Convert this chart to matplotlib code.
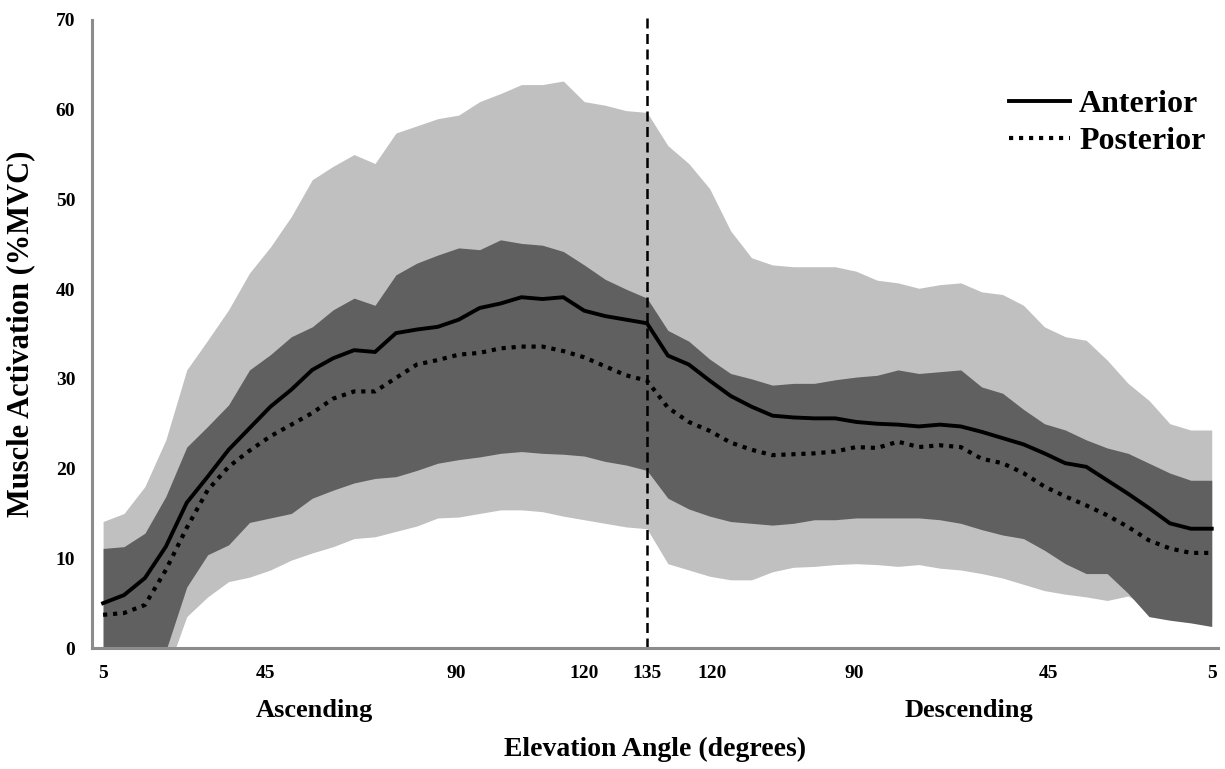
import numpy as np
import matplotlib
matplotlib.use("Agg")
import matplotlib.pyplot as plt
from matplotlib.lines import Line2D

# mean muscle activation (%MVC), 54 samples: ascending 5->135 deg, then descending 135->5 deg
anterior = [5.0, 5.9, 7.8, 11.3, 16.2, 19.1, 22.1, 24.5, 26.9, 28.8,
            31.0, 32.3, 33.2, 33.0, 35.1, 35.5, 35.8, 36.6, 37.9, 38.4,
            39.1, 38.9, 39.1, 37.6, 37.0, 36.6, 36.2, 32.6, 31.6, 29.8,
            28.1, 26.9, 25.9, 25.7, 25.6, 25.6, 25.2, 25.0, 24.9, 24.7,
            24.9, 24.7, 24.1, 23.4, 22.7, 21.7, 20.6, 20.2, 18.7, 17.2,
            15.6, 13.9, 13.3, 13.3]
posterior = [3.7, 3.9, 4.8, 8.7, 13.4, 17.6, 20.2, 22.0, 23.6, 24.9,
             26.2, 27.8, 28.6, 28.6, 30.1, 31.6, 32.1, 32.7, 32.9, 33.4,
             33.6, 33.6, 33.1, 32.4, 31.4, 30.4, 29.8, 26.8, 25.2, 24.2,
             22.9, 22.1, 21.5, 21.6, 21.7, 21.9, 22.4, 22.3, 23.0, 22.4,
             22.6, 22.4, 21.1, 20.6, 19.5, 18.0, 16.9, 15.9, 14.8, 13.5,
             12.0, 11.1, 10.6, 10.6]

# +/- SD envelopes
anterior_hi = [14.1, 15.0, 18.0, 23.2, 31.0, 34.3, 37.7, 41.8, 44.7, 48.1,
               52.2, 53.7, 55.0, 54.0, 57.4, 58.2, 59.0, 59.4, 60.9, 61.8,
               62.8, 62.8, 63.2, 60.9, 60.5, 59.9, 59.7, 56.0, 54.0, 51.2,
               46.5, 43.5, 42.7, 42.5, 42.5, 42.5, 42.0, 41.0, 40.7, 40.1,
               40.5, 40.7, 39.7, 39.4, 38.2, 35.8, 34.7, 34.3, 32.1, 29.5,
               27.6, 25.0, 24.3, 24.3]
anterior_lo = [-4.0, -3.8, -3.5, -3.0, 3.5, 5.7, 7.4, 7.9, 8.7, 9.8,
               10.6, 11.3, 12.2, 12.4, 13.0, 13.6, 14.5, 14.6, 15.0, 15.4,
               15.4, 15.2, 14.7, 14.3, 13.9, 13.5, 13.3, 9.4, 8.7, 8.0,
               7.6, 7.6, 8.5, 9.0, 9.1, 9.3, 9.4, 9.3, 9.1, 9.3,
               8.9, 8.7, 8.3, 7.8, 7.1, 6.4, 6.0, 5.7, 5.3, 5.8,
               4.5, 3.8, 3.5, 3.2]
posterior_hi = [11.1, 11.3, 12.8, 16.9, 22.4, 24.7, 27.1, 31.0, 32.7, 34.7,
                35.8, 37.7, 39.0, 38.2, 41.6, 42.9, 43.8, 44.6, 44.4, 45.5,
                45.1, 44.9, 44.2, 42.7, 41.1, 40.0, 39.0, 35.4, 34.2, 32.2,
                30.6, 30.0, 29.3, 29.5, 29.5, 29.9, 30.2, 30.4, 31.0, 30.6,
                30.8, 31.0, 29.1, 28.4, 26.6, 25.0, 24.3, 23.2, 22.3, 21.7,
                20.6, 19.5, 18.7, 18.7]
posterior_lo = [-3.5, -3.4, -3.0, -0.3, 6.8, 10.4, 11.5, 14.0, 14.5, 15.0,
                16.7, 17.6, 18.4, 18.9, 19.1, 19.8, 20.6, 21.0, 21.3, 21.7,
                21.9, 21.7, 21.6, 21.4, 20.8, 20.4, 19.8, 16.7, 15.5, 14.7,
                14.1, 13.9, 13.7, 13.9, 14.3, 14.3, 14.5, 14.5, 14.5, 14.5,
                14.3, 13.9, 13.2, 12.6, 12.2, 10.9, 9.4, 8.3, 8.3, 6.1,
                3.5, 3.1, 2.8, 2.4]

tick_labels = ["5", "45", "90", "120", "135", "120", "90", "45", "5"]
tick_pos = [0, 7.75, 16.9, 23.0, 26.0, 29.1, 35.9, 45.2, 53.0]
peak_index = 26  # 135 deg, turn from ascending to descending

x = np.arange(len(anterior))

serif = ["Liberation Serif", "DejaVu Serif"]
plt.rcParams["font.family"] = serif
plt.rcParams["font.weight"] = "bold"

fig = plt.figure(figsize=(12.25, 7.69), dpi=100)
ax = fig.add_axes([0.0751, 0.1573, 0.9192, 0.8167])

ax.fill_between(x, anterior_lo, anterior_hi, color="#c0c0c0", lw=0)
ax.fill_between(x, posterior_lo, posterior_hi, color="#606060", lw=0)
ax.plot(x, anterior, color="black", lw=2.8, solid_joinstyle="miter")
ax.plot(x, posterior, color="black", lw=3, linestyle=(0, (1, 1.4)))
ax.axvline(peak_index, ymin=0, ymax=1.005, color="black", lw=1.8,
           linestyle=(0, (4, 2.2)), clip_on=False)

ax.set_xlim(-0.53, 53.3)
ax.set_ylim(0, 70)
ax.set_yticks(range(0, 71, 10))
ax.set_xticks(tick_pos)
ax.set_xticklabels(tick_labels)
ax.tick_params(length=0, labelsize=14, pad=12)
for lab in ax.get_xticklabels() + ax.get_yticklabels():
    lab.set_fontweight("bold")

for side in ["top", "right"]:
    ax.spines[side].set_visible(False)
for side in ["left", "bottom"]:
    ax.spines[side].set_color("#8c8c8c")
    ax.spines[side].set_linewidth(2.2)

trans = matplotlib.transforms.blended_transform_factory(ax.transData, ax.transAxes)
ax.text(10.1, -0.10, "Ascending", transform=trans, ha="center", va="center",
        fontsize=19, fontweight="bold")
ax.text(41.4, -0.10, "Descending", transform=trans, ha="center", va="center",
        fontsize=19, fontweight="bold")
ax.text(0.5, -0.162, "Elevation Angle (degrees)", transform=ax.transAxes,
        ha="center", va="center", fontsize=20, fontweight="bold")
ax.text(-0.063, 0.5, "Muscle Activation (%MVC)", transform=ax.transAxes,
        ha="center", va="center", rotation=90, fontsize=22, fontweight="bold")

handles = [Line2D([], [], color="black", lw=2.8),
           Line2D([], [], color="black", lw=3, linestyle=(0, (1, 1.4)))]
ax.legend(handles, ["Anterior", "Posterior"], loc="upper right",
          bbox_to_anchor=(1.003, 0.915), frameon=False, handlelength=1.9,
          handletextpad=0.28, labelspacing=0.25, borderpad=0,
          prop={"family": serif, "weight": "bold", "size": 23})

fig.savefig("out.png", dpi=100)
